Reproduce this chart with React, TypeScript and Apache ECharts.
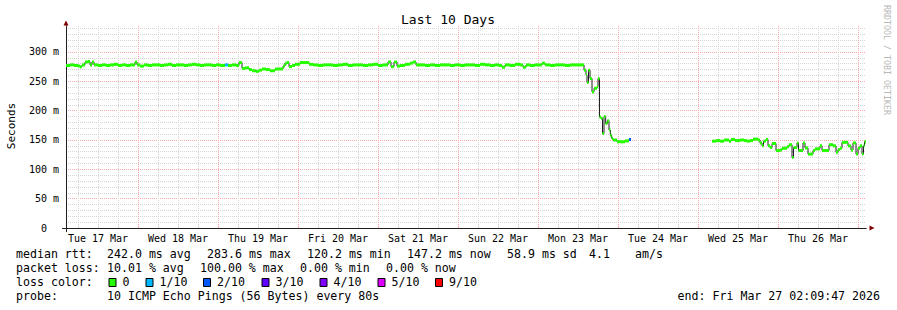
import React, { useEffect, useRef } from "react";
import * as echarts from "echarts";

// x values are hours after Tue 17 Mar 00:00
const START_HOUR = 2.4;
const END_HOUR = 242.4;
const Y_MAX = 344.3;

const dayLabels = [
  "Tue 17 Mar", "Wed 18 Mar", "Thu 19 Mar", "Fri 20 Mar", "Sat 21 Mar",
  "Sun 22 Mar", "Mon 23 Mar", "Tue 24 Mar", "Wed 25 Mar", "Thu 26 Mar",
];

// [hour, median rtt in ms, lost pings out of 10]
type Sample = [number, number, number];

const rttBeforeOutage: Sample[] = [
  [2.4, 277, 0], [3.6, 278, 0], [4.8, 277, 0], [6.0, 276, 0], [6.6, 275, 0],
  [7.2, 278, 0], [8.1, 283, 0], [9.0, 283.6, 0], [9.6, 278, 0], [10.2, 283, 0],
  [10.8, 278, 0], [12.0, 277, 0], [13.2, 278, 0], [14.4, 277, 0], [15.6, 278, 0],
  [16.8, 279, 0], [18.0, 277, 0], [19.2, 278, 0], [20.4, 277, 0], [21.6, 278, 0],
  [23.1, 283, 0], [23.7, 278, 0], [24.6, 276, 0], [25.8, 278, 0], [27.0, 277, 0],
  [28.2, 278, 0], [29.4, 278, 0], [30.6, 277, 0], [31.8, 278, 0], [33.0, 279, 0],
  [34.2, 277, 0], [35.4, 278, 0], [36.6, 278, 0], [37.8, 277, 0], [39.0, 278, 0],
  [40.2, 279, 0], [41.4, 278, 0], [42.6, 277, 0], [43.8, 278, 0], [45.0, 278, 0],
  [46.2, 277, 0], [47.4, 278, 0], [48.6, 277, 0], [50.1, 278, 1], [51.0, 277, 0],
  [52.2, 278, 0], [53.4, 277, 0], [54.3, 282, 0], [55.2, 272, 0], [56.1, 273, 0],
  [57.3, 270, 0], [58.2, 268, 0], [59.4, 267, 0], [60.3, 269, 0], [61.2, 271, 0],
  [62.4, 270, 0], [63.6, 268, 0], [65.1, 271, 0], [66.6, 271, 0], [67.5, 276, 0],
  [68.1, 281, 0], [68.7, 282, 0], [69.3, 275, 0], [70.2, 277, 0], [71.1, 279, 0],
  [72.6, 282, 0], [74.1, 282, 0], [75.3, 279, 0], [76.5, 278, 0], [78.0, 277, 0],
  [79.5, 278, 0], [81.0, 278, 0], [82.5, 277, 0], [84.0, 278, 0], [85.5, 279, 0],
  [87.0, 277, 0], [88.5, 278, 0], [90.0, 278, 0], [91.5, 277, 0], [93.0, 278, 0],
  [94.5, 279, 0], [96.0, 277, 0], [97.5, 278, 0], [99.0, 283, 0], [99.9, 275, 0],
  [100.8, 283, 0], [101.7, 276, 0], [102.6, 277, 0], [104.1, 279, 0], [105.6, 281, 0],
  [106.5, 283, 0], [107.4, 278, 0], [108.6, 278, 0], [110.1, 277, 0], [111.6, 278, 0],
  [113.1, 277, 0], [114.6, 278, 0], [116.1, 278, 0], [117.6, 277, 0], [119.1, 278, 0],
  [120.6, 277, 0], [122.1, 278, 0], [123.6, 278, 0], [125.1, 277, 0], [126.6, 279, 0],
  [128.1, 278, 0], [129.6, 277, 0], [131.1, 278, 0], [132.3, 277, 0], [133.2, 274, 0],
  [134.1, 278, 0], [135.6, 277, 0], [137.1, 279, 0], [138.6, 278, 0], [139.5, 274, 0],
  [140.4, 278, 0], [141.6, 277, 0], [143.1, 278, 0], [144.6, 278, 0], [145.2, 281, 0],
  [146.1, 278, 0], [147.6, 277, 0], [149.1, 278, 0], [150.6, 278, 0], [152.1, 277, 0],
  [153.6, 278, 0], [155.1, 278, 0], [156.6, 278, 0], [157.8, 269, 0], [158.4, 261, 0],
  [158.7, 248, 0], [159.15, 269, 0], [159.6, 255, 0], [160.2, 232, 0], [160.8, 238, 0],
  [161.7, 241, 0], [162.0, 255, 0], [162.45, 189, 0], [162.9, 187, 0], [163.35, 161, 0],
  [163.8, 190, 0], [164.3, 178, 0], [164.8, 183, 0], [165.3, 167, 0], [165.7, 158, 0],
  [166.1, 153, 0], [166.5, 150, 0], [167.7, 147, 0], [168.9, 147, 0], [170.1, 148.5, 0],
  [171.3, 151, 2],
];
const beforeOutageEnd = 171.9;

const rttAfterOutage: Sample[] = [
  [196.2, 148, 0], [197.4, 149, 0], [198.6, 148, 0], [199.8, 150, 0], [201.3, 148, 0],
  [201.9, 151, 0], [203.1, 149, 0], [204.6, 150, 0], [205.8, 149, 0], [206.7, 148, 0],
  [207.6, 149, 0], [208.5, 151.5, 0], [210.0, 150, 0], [210.6, 145, 0], [211.2, 140, 0],
  [211.65, 148, 0], [212.4, 151, 0], [213.0, 140, 0], [213.6, 137, 0], [214.2, 144, 0],
  [215.4, 132, 0], [216.6, 133, 0], [217.2, 136, 0], [218.7, 138.5, 0], [219.3, 142, 0],
  [220.2, 120.2, 0], [220.65, 137, 0], [221.7, 145, 0], [222.15, 132, 0], [223.5, 145, 0],
  [224.1, 136.5, 0], [225.0, 126, 0], [226.5, 132, 0], [227.1, 135, 0], [228.6, 140, 0],
  [229.2, 132, 0], [231.3, 142, 0], [232.5, 140, 0], [233.4, 129, 0], [234.0, 134, 0],
  [234.6, 136, 0], [235.2, 146, 0], [237.0, 140, 0], [237.9, 133, 0], [238.5, 145, 0],
  [239.4, 126, 0], [240.0, 136, 0], [240.6, 140, 0], [241.2, 126, 0], [241.65, 140, 0],
  [241.95, 147.2, 0],
];
const afterOutageEnd = 242.4;

const lossColors = ["#26ff00", "#00b8ff", "#0059ff", "#5e00ff", "#7e00ff", "#dd00ff", "#ff0000"];
const lossLabels = ["0", "1/10", "2/10", "3/10", "4/10", "5/10", "9/10"];
const lossBoxX = [108.5, 145.5, 203, 261.5, 319.5, 377.5, 435];

const rttRow: [string, number][] = [
  ["median rtt:", 16], ["242.0 ms avg", 107], ["283.6 ms max", 207], ["120.2 ms min", 307],
  ["147.2 ms now", 407], ["58.9 ms sd", 507], ["4.1", 589], ["am/s", 635],
];
const lossRow: [string, number][] = [
  ["packet loss:", 16], ["10.01 % avg", 107], ["100.00 % max", 200], ["0.00 % min", 300], ["0.00 % now", 386],
];
const probeRow: [string, number][] = [
  ["probe:", 16], ["10 ICMP Echo Pings (56 Bytes) every 80s", 107],
];
const endText = "end: Fri Mar 27 02:09:47 2026";

const MONO = '"DejaVu Sans Mono", monospace';

function lossColor(l: number) {
  return l <= 5 ? lossColors[l] : lossColors[6];
}

function buildBands(samples: Sample[], segEnd: number) {
  return samples.map((s, i) => [s[0], i + 1 < samples.length ? samples[i + 1][0] : segEnd, s[1], s[2]]);
}
function buildLine(samples: Sample[], segEnd: number) {
  const out: any[] = [];
  samples.forEach((s, i) => {
    const next = i + 1 < samples.length ? samples[i + 1][0] : segEnd;
    out.push([s[0], s[1]]);
    out.push([next, s[1]]);
  });
  out.push([segEnd, "-"]);
  return out;
}

export default function App() {
  const ref = useRef<HTMLDivElement>(null);
  useEffect(() => {
    if (!ref.current) return;
    const chart = echarts.init(ref.current, undefined, { renderer: "svg" });

    const midnights: number[] = [];
    const sixHours: number[] = [];
    for (let h = 6; h <= END_HOUR; h += 6) {
      if (h < START_HOUR) continue;
      if (h % 24 === 0) midnights.push(h);
      else sixHours.push(h);
    }
    const noons = dayLabels.map((_, i) => 12 + 24 * i);

    const bands = [...buildBands(rttBeforeOutage, beforeOutageEnd), ...buildBands(rttAfterOutage, afterOutageEnd)];
    const line = [...buildLine(rttBeforeOutage, beforeOutageEnd), ...buildLine(rttAfterOutage, afterOutageEnd)];

    const xBase = { type: "value", min: START_HOUR, max: END_HOUR, position: "bottom", gridIndex: 0 };
    const yBase = { type: "value", min: 0, max: Y_MAX, position: "left", gridIndex: 0 };
    const GREY = "#d4d4d4";
    const RED = "#f7a8a8";
    const AXIS = "#202020";

    const texts: any[] = [];
    const textStyle = (t: string, size: number, align: string, fill = "#000") => ({
      text: t, font: `${size}px ${MONO}`, fill, textAlign: align, align, textVerticalAlign: "middle", verticalAlign: "middle",
    });
    const addRow = (row: [string, number][], y: number) =>
      row.forEach(([t, x]) => texts.push({ type: "text", x, y, silent: true, style: textStyle(t, 11.6, "left") }));
    addRow(rttRow, 254);
    addRow(lossRow, 268);
    addRow([["loss color:", 16]], 282);
    addRow(probeRow, 296);
    lossLabels.forEach((lab, i) => {
      texts.push({
        type: "rect", silent: true,
        shape: { x: lossBoxX[i] + 0.5, y: 278.5, width: 7, height: 8 },
        style: { fill: lossColors[i], stroke: "#000", lineWidth: 1 },
      });
      texts.push({ type: "text", x: lossBoxX[i] + 14, y: 282, silent: true, style: textStyle(lab, 11.6, "left") });
    });
    texts.push({ type: "text", x: 880, y: 296, silent: true, style: textStyle(endText, 11.6, "right") });
    texts.push({ type: "text", x: 448, y: 19, silent: true, style: textStyle("Last 10 Days", 13, "center") });
    texts.push({ type: "text", x: 11, y: 126, rotation: Math.PI / 2, silent: true, style: textStyle("Seconds", 11, "center") });
    texts.push({
      type: "text", x: 887, y: 60, rotation: -Math.PI / 2, silent: true,
      style: textStyle("RRDTOOL / TOBI OETIKER", 8.3, "center", "#b8b8b8"),
    });

    chart.setOption({
      animation: false,
      backgroundColor: "#ffffff",
      grid: { left: 66, top: 26, width: 800, height: 202 },
      xAxis: [
        {
          ...xBase,
          axisLine: { show: false },
          axisTick: { show: true, inside: true, length: 2, customValues: sixHours, lineStyle: { color: GREY } },
          axisLabel: { show: false },
          splitLine: { show: true, lineStyle: { color: GREY, width: 1, type: [1, 1] } },
        },
        {
          ...xBase,
          axisLine: { show: true, symbol: ["none", "triangle"], symbolSize: [5, 5], symbolOffset: [0, 6], lineStyle: { color: "#800000", width: 1 } },
          axisTick: { show: true, inside: true, length: 2, customValues: midnights, lineStyle: { color: RED } },
          axisLabel: { show: false },
          splitLine: { show: true, lineStyle: { color: RED, width: 1, type: [1, 1] } },
        },
        {
          ...xBase,
          axisLine: { show: true, lineStyle: { color: AXIS, width: 1 } },
          axisTick: { show: false },
          axisLabel: {
            show: true, customValues: noons, margin: 5, fontFamily: MONO, fontSize: 10, color: "#000",
            formatter: (v: number) => dayLabels[Math.round((v - 12) / 24)] ?? "",
          },
          splitLine: { show: false },
        },
        {
          ...xBase,
          axisLine: { show: false },
          axisTick: { show: true, length: 4, customValues: [START_HOUR], lineStyle: { color: AXIS } },
          axisLabel: { show: false },
          splitLine: { show: false },
        },
      ],
      yAxis: [
        {
          ...yBase, interval: 10,
          axisLine: { show: true, symbol: ["none", "triangle"], symbolSize: [5, 5], symbolOffset: [0, 3], lineStyle: { color: "#800000", width: 1 } },
          axisTick: { show: false },
          axisLabel: { show: false },
          splitLine: { show: true, showMinLine: false, showMaxLine: false, lineStyle: { color: GREY, width: 1, type: [1, 1] } },
        },
        {
          ...yBase, interval: 50,
          axisLine: { show: true, lineStyle: { color: AXIS, width: 1 } },
          axisTick: { show: false },
          axisLabel: {
            show: true, showMaxLabel: false, margin: 7, fontFamily: MONO, fontSize: 10, color: "#000",
            formatter: (v: number) => (v === 0 ? "{z|0}" : `${v} m`),
            rich: { z: { fontFamily: MONO, fontSize: 10, color: "#000", padding: [0, 12, 0, 0] } },
          },
          splitLine: { show: true, showMinLine: false, showMaxLine: false, lineStyle: { color: RED, width: 1, type: [1, 1] } },
        },
        {
          ...yBase,
          axisLine: { show: false },
          axisTick: { show: true, length: 4, customValues: [0], lineStyle: { color: AXIS } },
          axisLabel: { show: false },
          splitLine: { show: false },
        },
      ],
      series: [
        {
          type: "line", xAxisIndex: 0, yAxisIndex: 0, data: line, showSymbol: false, symbol: "none",
          connectNulls: false, silent: true, z: 3,
          lineStyle: { color: "#202020", width: 1 },
        },
        {
          type: "custom", xAxisIndex: 0, yAxisIndex: 0, data: bands, silent: true, z: 4,
          dimensions: ["start", "end", "ms", "loss"],
          encode: { x: [0, 1], y: 2 },
          renderItem: (_p: any, api: any) => {
            const a = api.coord([api.value(0), api.value(2)]);
            const b = api.coord([api.value(1), api.value(2)]);
            return {
              type: "rect",
              shape: { x: a[0], y: a[1] - 1.5, width: Math.max(b[0] - a[0], 1), height: 3 },
              style: { fill: lossColor(api.value(3)) },
            };
          },
        },
      ],
      graphic: { elements: texts },
    });
    return () => chart.dispose();
  }, []);
  return <div ref={ref} style={{ position: "absolute", left: 0, top: 0, width: 897, height: 310 }} />;
}
